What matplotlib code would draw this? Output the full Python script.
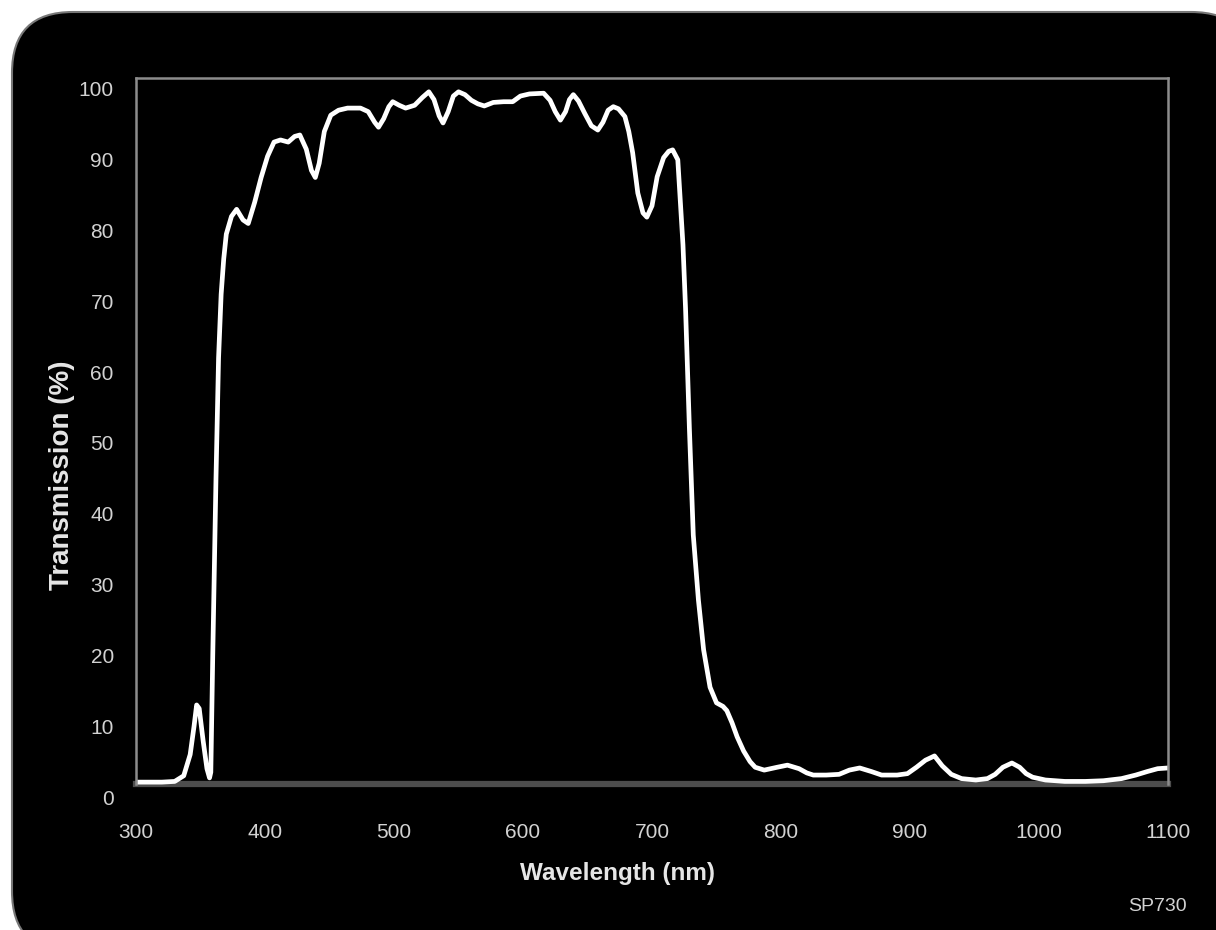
import matplotlib
matplotlib.use("Agg")
import matplotlib.pyplot as plt
from matplotlib.patches import FancyBboxPatch

#------------------------------------------------------------
# SP730 short pass filter
wavelength = [300, 320, 330, 337, 342, 345, 347, 349, 352, 355, 357, 358,
              359.5, 362, 364, 366, 368, 370, 374, 378, 383, 387, 392, 397,
              402, 407, 412, 418, 423, 427, 432, 436, 439, 442, 446, 451,
              457, 464, 474, 480, 485, 488, 492, 496, 499, 504, 509, 516,
              522, 527, 531, 535, 538, 542, 546, 550, 555, 560, 565, 570,
              577, 585, 592, 598, 605, 616, 621, 625, 629, 633, 636, 639,
              643, 648, 653, 658, 662, 666, 670, 674, 679, 682, 685, 689,
              693, 696, 700, 704, 709, 713, 716, 720, 722, 724, 726, 729,
              732, 736, 740, 745, 750, 755, 758, 762, 766, 771, 776, 780,
              787, 797, 805, 814, 820, 825, 835, 845, 853, 861, 870, 878,
              890, 898, 905, 912, 919, 925, 932, 940, 951, 960, 966, 972,
              979, 985, 990, 995, 1005, 1020, 1036, 1050, 1064, 1075, 1084,
              1092, 1100]
transmission = [2.1, 2.1, 2.2, 3.0, 6.0, 10.0, 13.0, 12.5, 8.0, 4.0, 2.7, 3.5,
                20, 45, 62, 71, 76, 79.5, 82, 83, 81.5, 81, 84, 87.5,
                90.5, 92.5, 92.8, 92.5, 93.3, 93.5, 91.5, 88.5, 87.5, 89.5, 94, 96.3,
                97, 97.3, 97.3, 96.8, 95.3, 94.6, 95.8, 97.5, 98.2, 97.7, 97.3, 97.7,
                98.8, 99.6, 98.5, 96.2, 95.2, 96.8, 99, 99.6, 99.2, 98.4, 97.9, 97.6,
                98.1, 98.2, 98.2, 99.0, 99.3, 99.4, 98.4, 96.8, 95.6, 96.8, 98.5, 99.2,
                98.3, 96.5, 94.8, 94.2, 95.3, 97.0, 97.5, 97.2, 96.1, 94, 91, 85.3,
                82.5, 81.9, 83.5, 87.6, 90.3, 91.2, 91.4, 90.0, 84, 78, 69, 52,
                37, 27.8, 20.8, 15.5, 13.3, 12.8, 12.2, 10.5, 8.5, 6.5, 5.0, 4.2,
                3.8, 4.2, 4.5, 4.0, 3.4, 3.1, 3.1, 3.2, 3.8, 4.1, 3.6, 3.1,
                3.1, 3.3, 4.2, 5.2, 5.8, 4.4, 3.2, 2.6, 2.4, 2.6, 3.2, 4.2,
                4.8, 4.2, 3.3, 2.8, 2.4, 2.2, 2.2, 2.3, 2.6, 3.1, 3.6,
                4.0, 4.1]

x_ticks = [300, 400, 500, 600, 700, 800, 900, 1000, 1100]
y_ticks = [0, 10, 20, 30, 40, 50, 60, 70, 80, 90, 100]

#------------------------------------------------------------
fig = plt.figure(figsize=(12.16, 9.30), dpi=100)
fig.patch.set_facecolor("white")

# black rounded card behind everything
card = FancyBboxPatch((12 / 1216, 1 - 952 / 930), 1240 / 1216, 940 / 930,
                      boxstyle="round,pad=0,rounding_size=0.05",
                      transform=fig.transFigure, facecolor="black",
                      edgecolor="#777777", linewidth=1.5, zorder=-5,
                      mutation_aspect=1216 / 930)
fig.add_artist(card)

ax = fig.add_axes([136 / 1216, 133 / 930, 1032 / 1216, 719 / 930])
ax.set_facecolor("black")

ax.plot(wavelength, transmission, color="white", linewidth=3.4,
        solid_joinstyle="round", solid_capstyle="round")

ax.set_xlim(300, 1100)
ax.set_ylim(0, 101.55)
ax.set_xticks(x_ticks)
ax.set_yticks(y_ticks)

for side in ["left", "right", "top"]:
    ax.spines[side].set_color("#8c8c8c")
    ax.spines[side].set_linewidth(1.8)
ax.spines["left"].set_bounds(1.84, 101.55)
ax.spines["right"].set_bounds(1.84, 101.55)
ax.spines["bottom"].set_position(("data", 1.84))
ax.spines["bottom"].set_color("#4d4d4d")
ax.spines["bottom"].set_linewidth(4.5)
ax.spines["bottom"].set_zorder(1)

ax.tick_params(axis="both", length=0, colors="#d2d2d2", labelsize=15)
ax.tick_params(axis="y", pad=16)
ax.tick_params(axis="x", pad=28)
for lab in ax.get_xticklabels() + ax.get_yticklabels():
    lab.set_fontfamily("Liberation Sans")

fig.text(617 / 1216, 1 - 873 / 930, "Wavelength (nm)", color="#e6e6e6",
         fontsize=17.5, fontweight="bold", family="Liberation Sans",
         ha="center", va="center")
fig.text(62 / 1216, 1 - 475 / 930, "Transmission (%)", color="#e6e6e6",
         fontsize=20, fontweight="bold", family="Liberation Sans",
         ha="center", va="center", rotation=90)
fig.text(1157 / 1216, 1 - 906 / 930, "SP730", color="#d2d2d2",
         fontsize=14, family="Liberation Sans", ha="center", va="center")

fig.savefig("out.png", dpi=100, facecolor=fig.get_facecolor())
